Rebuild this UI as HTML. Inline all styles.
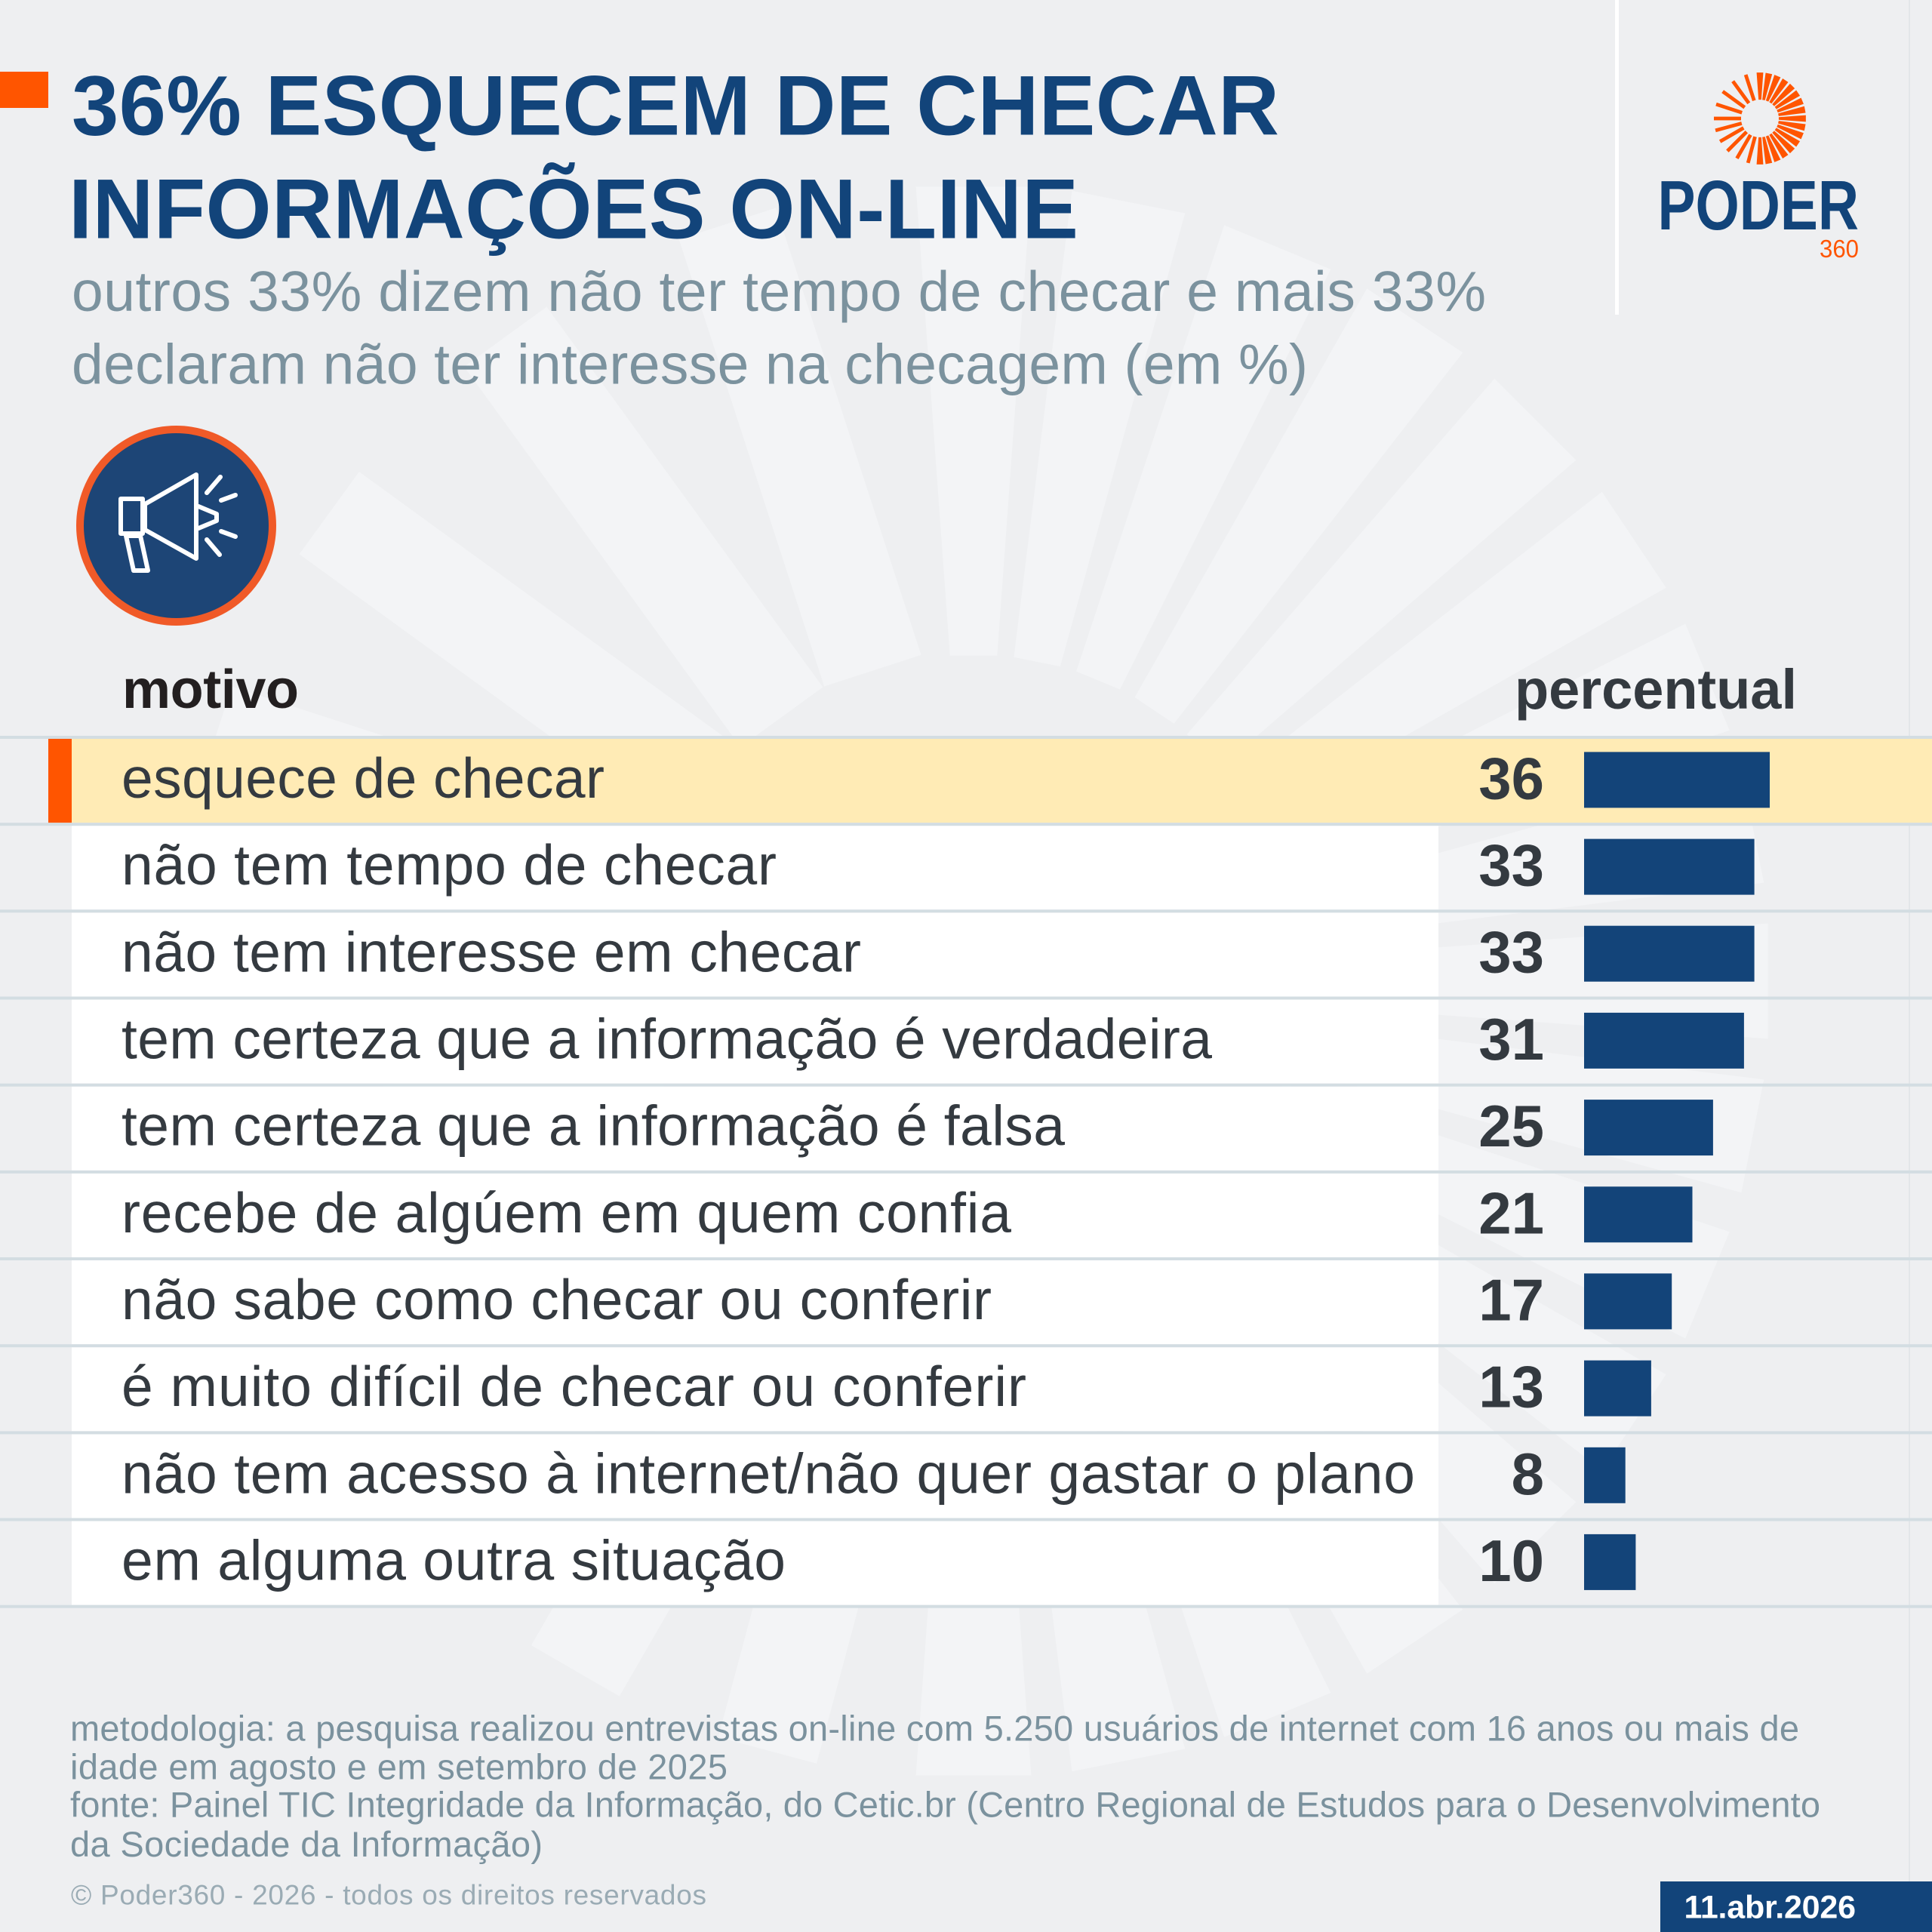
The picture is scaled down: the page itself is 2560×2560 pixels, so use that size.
<!DOCTYPE html>
<html>
<head>
<meta charset="utf-8">
<style>
html,body{margin:0;padding:0;background:#eeeff1;}
svg{display:block;}
text{font-family:"Liberation Sans",Arial,sans-serif;}
</style>
</head>
<body>
<svg xmlns="http://www.w3.org/2000/svg" xmlns:xlink="http://www.w3.org/1999/xlink" width="2560" height="2560" viewBox="0 0 2560 2560">
<defs>
  <path id="wg" d="M-1.809,-24.93 L-4.415,-60.84 L4.415,-60.84 L1.809,-24.93 Z"/>
  <rect id="tr" x="-2.4" y="-61" width="4.8" height="36"/>
  <rect id="trb" x="-3.9" y="-61" width="7.8" height="36"/>
  <g id="wedges">
    <use xlink:href="#wg" href="#wg"/>
    <use xlink:href="#wg" href="#wg" transform="rotate(11.25)"/>
    <use xlink:href="#wg" href="#wg" transform="rotate(22.5)"/>
    <use xlink:href="#wg" href="#wg" transform="rotate(33.75)"/>
    <use xlink:href="#wg" href="#wg" transform="rotate(45)"/>
    <use xlink:href="#wg" href="#wg" transform="rotate(56.25)"/>
    <use xlink:href="#wg" href="#wg" transform="rotate(67.5)"/>
    <use xlink:href="#wg" href="#wg" transform="rotate(78.75)"/>
    <use xlink:href="#wg" href="#wg" transform="rotate(90)"/>
    <use xlink:href="#wg" href="#wg" transform="rotate(101.25)"/>
    <use xlink:href="#wg" href="#wg" transform="rotate(112.5)"/>
    <use xlink:href="#wg" href="#wg" transform="rotate(123.75)"/>
    <use xlink:href="#wg" href="#wg" transform="rotate(135)"/>
    <use xlink:href="#wg" href="#wg" transform="rotate(146.25)"/>
    <use xlink:href="#wg" href="#wg" transform="rotate(157.5)"/>
    <use xlink:href="#wg" href="#wg" transform="rotate(168.75)"/>
    <use xlink:href="#wg" href="#wg" transform="rotate(180)"/>
  </g>
  <g id="sun">
    <use xlink:href="#wedges" href="#wedges"/>
    <use xlink:href="#tr" href="#tr" transform="rotate(-18)"/>
    <use xlink:href="#tr" href="#tr" transform="rotate(-36)"/>
    <use xlink:href="#tr" href="#tr" transform="rotate(-54)"/>
    <use xlink:href="#tr" href="#tr" transform="rotate(-72)"/>
    <use xlink:href="#tr" href="#tr" transform="rotate(-90)"/>
    <use xlink:href="#tr" href="#tr" transform="rotate(-105)"/>
    <use xlink:href="#tr" href="#tr" transform="rotate(-120)"/>
    <use xlink:href="#tr" href="#tr" transform="rotate(-135)"/>
    <use xlink:href="#tr" href="#tr" transform="rotate(-150)"/>
    <use xlink:href="#tr" href="#tr" transform="rotate(-165)"/>
  </g>
  <g id="sunbg">
    <use xlink:href="#wedges" href="#wedges"/>
    <use xlink:href="#trb" href="#trb" transform="rotate(-18)"/>
    <use xlink:href="#trb" href="#trb" transform="rotate(-36)"/>
    <use xlink:href="#trb" href="#trb" transform="rotate(-54)"/>
    <use xlink:href="#trb" href="#trb" transform="rotate(-72)"/>
    <use xlink:href="#trb" href="#trb" transform="rotate(-90)"/>
    <use xlink:href="#trb" href="#trb" transform="rotate(-105)"/>
    <use xlink:href="#trb" href="#trb" transform="rotate(-120)"/>
    <use xlink:href="#trb" href="#trb" transform="rotate(-135)"/>
    <use xlink:href="#trb" href="#trb" transform="rotate(-150)"/>
    <use xlink:href="#trb" href="#trb" transform="rotate(-165)"/>
  </g>
</defs>

<!-- background -->
<rect x="0" y="0" width="2560" height="2560" fill="#eeeff1"/>
<use xlink:href="#sunbg" href="#sunbg" fill="#f3f4f6" transform="translate(1290,1300) scale(17.3)"/>

<!-- vertical lines -->
<rect x="2140" y="0" width="5" height="417" fill="#ffffff"/>
<rect x="2529" y="0" width="2" height="2493" fill="#e3e6e9"/>

<!-- title -->
<rect x="0" y="95" width="64" height="48" fill="#ff5500"/>
<text x="95" y="178.5" font-size="112" font-weight="bold" fill="#12447a" textLength="1600" lengthAdjust="spacing">36% ESQUECEM DE CHECAR</text>
<text x="91" y="315.6" font-size="112" font-weight="bold" fill="#12447a" textLength="1338" lengthAdjust="spacing">INFORMAÇÕES ON-LINE</text>

<!-- subtitle -->
<text x="95" y="412" font-size="75" fill="#7b929e" textLength="1874" lengthAdjust="spacing">outros 33% dizem não ter tempo de checar e mais 33%</text>
<text x="95" y="508.5" font-size="75" fill="#7b929e" textLength="1638" lengthAdjust="spacing">declaram não ter interesse na checagem (em %)</text>

<!-- logo -->
<use xlink:href="#sun" href="#sun" fill="#ff5500" transform="translate(2332,157)"/>
<text x="2196.5" y="304" font-size="93" font-weight="bold" fill="#12447a" textLength="266.5" lengthAdjust="spacingAndGlyphs">PODER</text>
<text x="2411" y="341" font-size="33.5" fill="#ff5500" textLength="52" lengthAdjust="spacingAndGlyphs">360</text>

<!-- megaphone icon -->
<circle cx="233.5" cy="696.5" r="127.5" fill="#1d4576" stroke="#f05a28" stroke-width="10"/>
<g fill="none" stroke="#ffffff" stroke-width="6" stroke-linejoin="round" stroke-linecap="round">
  <rect x="160" y="661" width="29" height="46"/>
  <polygon points="192,668 260,629 260,740 192,702"/>
  <polyline points="263,671 287,681 287,690 263,700"/>
  <polygon points="167,710 177,756 196,756 186,710"/>
  <line x1="274" y1="653" x2="292" y2="632"/>
  <line x1="293" y1="663" x2="312" y2="656"/>
  <line x1="293" y1="704" x2="312" y2="711"/>
  <line x1="274" y1="715" x2="291" y2="735"/>
</g>

<!-- headers -->
<text x="162" y="938" font-size="72" font-weight="bold" fill="#231f20" textLength="234" lengthAdjust="spacing">motivo</text>
<text x="2007" y="939" font-size="74" font-weight="bold" fill="#343a40" textLength="374" lengthAdjust="spacing">percentual</text>

<!-- row backgrounds -->
<rect x="95" y="979" width="2465" height="111.2" fill="#ffebb5"/>
<rect x="64" y="979" width="31" height="111.2" fill="#ff5500"/>
<rect x="95" y="1094.2" width="1811" height="111.1" fill="#ffffff"/>
<rect x="95" y="1209.3" width="1811" height="111.2" fill="#ffffff"/>
<rect x="95" y="1324.5" width="1811" height="111.2" fill="#ffffff"/>
<rect x="95" y="1439.7" width="1811" height="111.2" fill="#ffffff"/>
<rect x="95" y="1554.9" width="1811" height="111.1" fill="#ffffff"/>
<rect x="95" y="1670" width="1811" height="111.2" fill="#ffffff"/>
<rect x="95" y="1785.2" width="1811" height="111.2" fill="#ffffff"/>
<rect x="95" y="1900.4" width="1811" height="111.1" fill="#ffffff"/>
<rect x="95" y="2015.5" width="1811" height="111.2" fill="#ffffff"/>

<!-- separator lines -->
<g fill="#d3dde2">
  <rect x="0" y="975" width="2560" height="4"/>
  <rect x="0" y="1090.2" width="2560" height="4"/>
  <rect x="0" y="1205.3" width="2560" height="4"/>
  <rect x="0" y="1320.5" width="2560" height="4"/>
  <rect x="0" y="1435.7" width="2560" height="4"/>
  <rect x="0" y="1550.9" width="2560" height="4"/>
  <rect x="0" y="1666" width="2560" height="4"/>
  <rect x="0" y="1781.2" width="2560" height="4"/>
  <rect x="0" y="1896.4" width="2560" height="4"/>
  <rect x="0" y="2011.5" width="2560" height="4"/>
  <rect x="0" y="2126.7" width="2560" height="4"/>
</g>

<!-- row labels -->
<g font-size="75" fill="#343a40">
  <text x="161" y="1057" textLength="640" lengthAdjust="spacing">esquece de checar</text>
  <text x="161" y="1172.2" textLength="868" lengthAdjust="spacing">não tem tempo de checar</text>
  <text x="161" y="1287.3" textLength="980" lengthAdjust="spacing">não tem interesse em checar</text>
  <text x="161" y="1402.5" textLength="1445" lengthAdjust="spacing">tem certeza que a informação é verdadeira</text>
  <text x="161" y="1517.7" textLength="1250" lengthAdjust="spacing">tem certeza que a informação é falsa</text>
  <text x="161" y="1632.9" textLength="1179" lengthAdjust="spacing">recebe de algúem em quem confia</text>
  <text x="161" y="1748" textLength="1153" lengthAdjust="spacing">não sabe como checar ou conferir</text>
  <text x="161" y="1863.2" textLength="1199" lengthAdjust="spacing">é muito difícil de checar ou conferir</text>
  <text x="161" y="1978.4" textLength="1714" lengthAdjust="spacing">não tem acesso à internet/não quer gastar o plano</text>
  <text x="161" y="2093.5" textLength="880" lengthAdjust="spacing">em alguma outra situação</text>
</g>

<!-- values -->
<g font-size="78" font-weight="bold" fill="#343a40" text-anchor="end">
  <text x="2046" y="1058.4">36</text>
  <text x="2046" y="1173.6">33</text>
  <text x="2046" y="1288.7">33</text>
  <text x="2046" y="1403.9">31</text>
  <text x="2046" y="1519.1">25</text>
  <text x="2046" y="1634.3">21</text>
  <text x="2046" y="1749.4">17</text>
  <text x="2046" y="1864.6">13</text>
  <text x="2046" y="1979.8">8</text>
  <text x="2046" y="2094.9">10</text>
</g>

<!-- bars -->
<g fill="#134479">
  <rect x="2099" y="996.4" width="246" height="74"/>
  <rect x="2099" y="1111.6" width="225.6" height="74"/>
  <rect x="2099" y="1226.7" width="225.6" height="74"/>
  <rect x="2099" y="1341.9" width="211.9" height="74"/>
  <rect x="2099" y="1457.1" width="170.9" height="74"/>
  <rect x="2099" y="1572.3" width="143.5" height="74"/>
  <rect x="2099" y="1687.4" width="116.2" height="74"/>
  <rect x="2099" y="1802.6" width="88.9" height="74"/>
  <rect x="2099" y="1917.8" width="54.7" height="74"/>
  <rect x="2099" y="2032.9" width="68.4" height="74"/>
</g>

<!-- footer -->
<g font-size="47" fill="#7b929e">
  <text x="93" y="2306.5" textLength="2291" lengthAdjust="spacing">metodologia: a pesquisa realizou entrevistas on-line com 5.250 usuários de internet com 16 anos ou mais de</text>
  <text x="93" y="2357.3" textLength="871" lengthAdjust="spacing">idade em agosto e em setembro de 2025</text>
  <text x="93" y="2407.5" textLength="2319" lengthAdjust="spacing">fonte: Painel TIC Integridade da Informação, do Cetic.br (Centro Regional de Estudos para o Desenvolvimento</text>
  <text x="93" y="2460" textLength="626" lengthAdjust="spacing">da Sociedade da Informação)</text>
</g>
<text x="94" y="2523.3" font-size="37" fill="#9aabb4" textLength="842" lengthAdjust="spacing">© Poder360 - 2026 - todos os direitos reservados</text>

<!-- date box -->
<rect x="2200" y="2493" width="360" height="67" fill="#12447a"/>
<text x="2231.5" y="2541.7" font-size="43" font-weight="bold" fill="#ffffff" textLength="227.5" lengthAdjust="spacing">11.abr.2026</text>
</svg>
</body>
</html>
